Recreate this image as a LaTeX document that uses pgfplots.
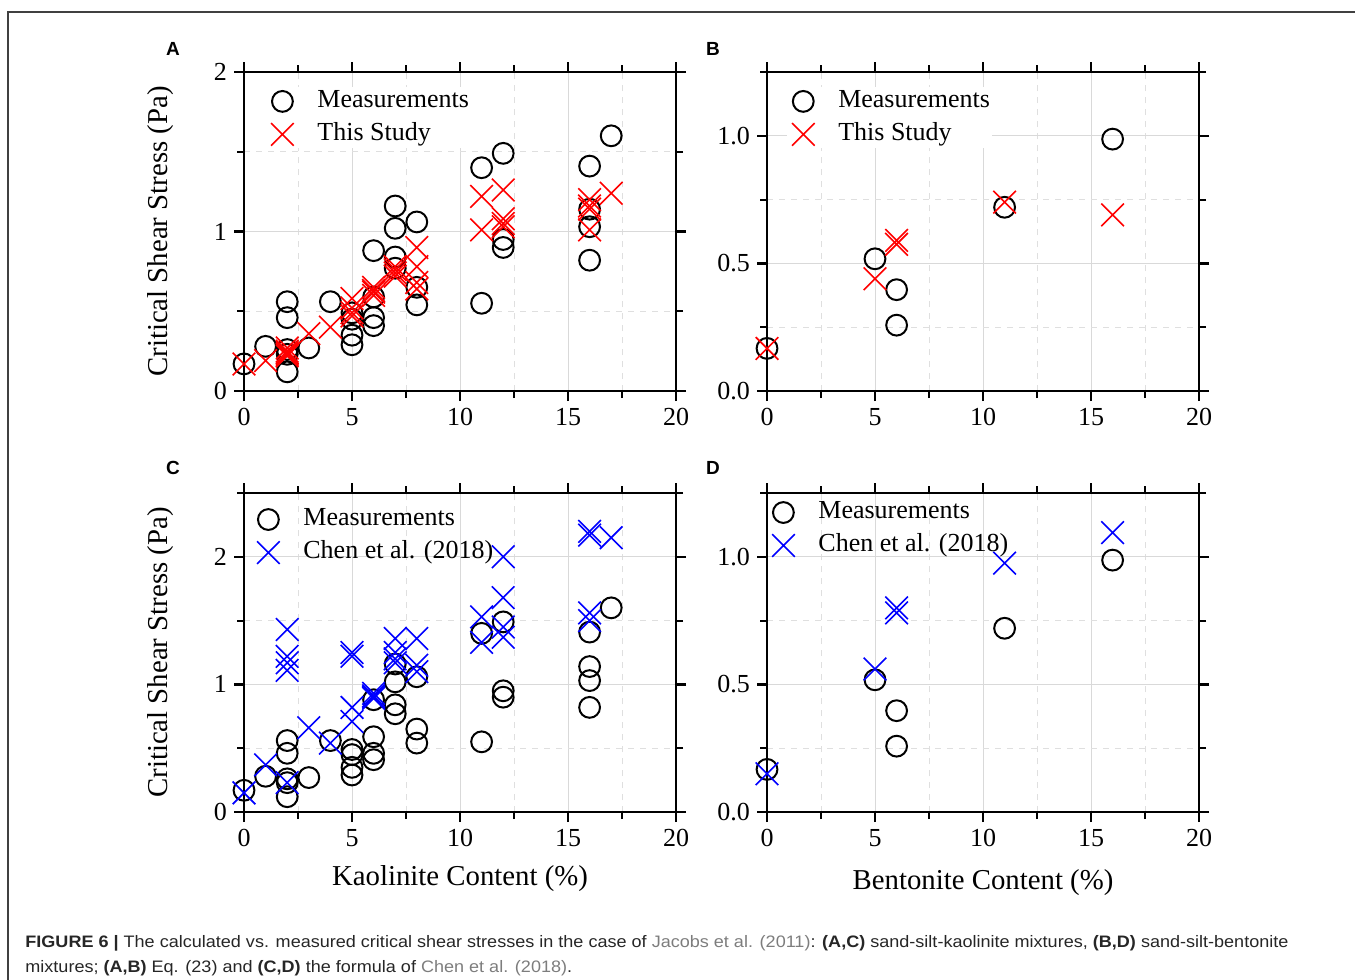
\documentclass[border=0pt]{standalone}
\usepackage{graphicx}
\usepackage{pgfplots}
\pgfplotsset{compat=1.18}
\usepackage{fontspec}
\setmainfont{Liberation Serif}
\newfontfamily\sansf{Liberation Sans}
\definecolor{capgray}{RGB}{125,125,125}
\pgfplotsset{
  panel/.style={
    scale only axis, width=216pt, height=159.5pt,
    xmin=0, xmax=20, xtick={0,5,10,15,20}, minor xtick={2.5,7.5,12.5,17.5},
    clip=false,
    axis line style={line width=1.2pt},
    every tick/.style={black, line width=1.1pt},
    tick align=outside, major tick length=5pt, minor tick length=3.5pt,
    grid=both,
    major grid style={gray!30, line width=0.5pt},
    minor grid style={gray!25, dashed, line width=0.5pt},
    tick label style={font=\fontsize{13}{15}\selectfont},
    /pgf/number format/assume math mode=true,
    label style={font=\fontsize{14.4}{17}\selectfont},
    legend cell align=left,
    legend style={anchor=north west, draw=none, fill=white, inner sep=0pt,
      font=\fontsize{13}{15}\selectfont, row sep=2.5pt,
      nodes={inner sep=1pt, text height=9pt, text depth=3pt}},
  },
  meas/.style={only marks, mark=o, black, mark size=5.2pt, mark options={line width=1pt},
    legend image code/.code={\draw[mark repeat=2,mark phase=2,##1] plot coordinates {(0pt,0pt) (8pt,0pt) (24.5pt,0pt)};\path[draw=none,fill=none] (0pt,0pt) (24.5pt,0pt);}},
  calc/.style={only marks, mark=x, #1, mark size=8pt, mark options={line width=0.8pt},
    legend image code/.code={\draw[mark repeat=2,mark phase=2,##1] plot coordinates {(0pt,0pt) (8pt,0pt) (24.5pt,0pt)};\path[draw=none,fill=none] (0pt,0pt) (24.5pt,0pt);}},
}
\pgfplotstableread{
x y
0 0.17
1 0.28
2 0.56
2 0.46
2 0.26
2 0.23
2 0.12
3 0.27
4 0.56
5 0.49
5 0.45
5 0.35
5 0.29
6 0.88
6 0.59
6 0.46
6 0.41
7 1.16
7 1.02
7 0.84
7 0.77
8 1.06
8 0.65
8 0.54
11 1.40
11 0.55
12 1.49
12 0.95
12 0.90
16 1.41
16 1.14
16 1.03
16 0.82
17 1.60
}\kaomeas
\pgfplotstableread{
x y
0 0.17
1 0.19
2 0.27
2 0.25
2 0.24
2 0.22
2 0.23
3 0.36
4 0.40
5 0.58
5 0.52
5 0.49
5 0.47
6 0.65
6 0.62
6 0.60
6 0.63
7 0.78
7 0.76
7 0.74
7 0.72
8 0.90
8 0.78
8 0.68
8 0.64
11 1.22
11 1.01
12 1.26
12 1.08
12 1.05
12 1.03
16 1.20
16 1.16
16 1.14
16 1.01
17 1.24
}\kaostudy
\pgfplotstableread{
x y
0 0.15
1 0.37
2 1.43
2 1.22
2 1.17
2 1.11
2 0.23
3 0.66
4 0.54
5 1.25
5 1.22
5 0.82
5 0.71
6 0.93
6 0.91
6 0.89
6 0.90
7 1.36
7 1.25
7 1.17
7 1.20
8 1.36
8 1.15
8 1.10
11 1.53
11 1.33
12 2.00
12 1.68
12 1.45
12 1.37
16 2.20
16 2.17
16 1.56
16 1.50
17 2.15
}\kaochen
\pgfplotstableread{
x y
0 0.167
5 0.518
6 0.397
6 0.258
11 0.72
16 0.987
}\benmeas
\pgfplotstableread{
x y
0 0.167
5 0.44
6 0.59
6 0.575
11 0.74
16 0.69
}\benstudy
\pgfplotstableread{
x y
0 0.15
5 0.56
6 0.80
6 0.78
11 0.975
16 1.095
}\benchen
\begin{document}
\begin{tikzpicture}
\useasboundingbox (0pt,0pt) rectangle (677.5pt,-490pt);
\draw[line width=0.6pt, black!75] (4pt,-490pt) -- (4pt,-6pt) -- (677.5pt,-6pt);
% Panel A
\begin{axis}[panel, at={(122pt,-195.5pt)}, anchor=south west,
  ymin=0, ymax=2, ytick={0,1,2}, minor ytick={0.5,1.5},
  ylabel={Critical Shear Stress (Pa)},
  ylabel style={at={(axis description cs:-0.194,0.5)}, anchor=center},
  legend style={at={(0.051,0.953)}}]
\addplot[meas] table {\kaomeas};
\addlegendentry{Measurements}
\addplot[calc=red] table {\kaostudy};
\addlegendentry{This Study}
\end{axis}
% Panel B
\begin{axis}[panel, at={(383.5pt,-195.5pt)}, anchor=south west,
  ymin=0, ymax=1.25, ytick={0,0.5,1}, minor ytick={0.25,0.75,1.25},
  yticklabel style={/pgf/number format/.cd, fixed, fixed zerofill, precision=1},
  legend style={at={(0.046,0.953)}}]
\addplot[meas] table {\benmeas};
\addlegendentry{Measurements}
\addplot[calc=red] table {\benstudy};
\addlegendentry{This Study}
\end{axis}
% Panel C
\begin{axis}[panel, at={(122pt,-406pt)}, anchor=south west,
  ymin=0, ymax=2.5, ytick={0,1,2}, minor ytick={0.5,1.5,2.5},
  ylabel={Critical Shear Stress (Pa)},
  ylabel style={at={(axis description cs:-0.194,0.5)}, anchor=center},
  xlabel={Kaolinite Content (\%)},
  xlabel style={at={(axis description cs:0.5,-0.21)}, anchor=center},
  legend style={at={(0.0185,0.962)}, fill=none}]
\addplot[meas] table {\kaomeas};
\addlegendentry{Measurements}
\addplot[calc=blue] table {\kaochen};
\addlegendentry{Chen et al. (2018)}
\end{axis}
% Panel D
\begin{axis}[panel, at={(383.5pt,-406pt)}, anchor=south west,
  ymin=0, ymax=1.25, ytick={0,0.5,1}, minor ytick={0.25,0.75,1.25},
  yticklabel style={/pgf/number format/.cd, fixed, fixed zerofill, precision=1},
  xlabel={Bentonite Content (\%)},
  xlabel style={at={(axis description cs:0.5,-0.22)}, anchor=center},
  legend style={at={(0.0,0.984)}, fill=none}]
\addplot[meas] table {\benmeas};
\addlegendentry{Measurements}
\addplot[calc=blue] table {\benchen};
\addlegendentry{Chen et al. (2018)}
\end{axis}
% Panel letters
\foreach \px/\py/\lab in {86.5/-24.5/A, 356.5/-24.5/B, 86.5/-234/C, 356.5/-234/D}
  \node[font=\sansf\bfseries\fontsize{9.5}{11}\selectfont, inner sep=0pt] at (\px pt,\py pt) {\lab};
% Caption
\node[anchor=base west, inner sep=0pt, text=black!85] at (12.5pt,-473.5pt)
  {\resizebox{631.5pt}{\height}{\sansf\fontsize{8.3}{12.5}\selectfont
   \begin{tabular}[t]{@{}l@{}}
   \textbf{FIGURE 6 |} The calculated vs. measured critical shear stresses in the case of \textcolor{capgray}{Jacobs et al. (2011)}: \textbf{(A,C)} sand-silt-kaolinite mixtures, \textbf{(B,D)} sand-silt-bentonite\\
   mixtures; \textbf{(A,B)} Eq. (23) and \textbf{(C,D)} the formula of \textcolor{capgray}{Chen et al. (2018)}.
   \end{tabular}}};
\end{tikzpicture}
\end{document}
